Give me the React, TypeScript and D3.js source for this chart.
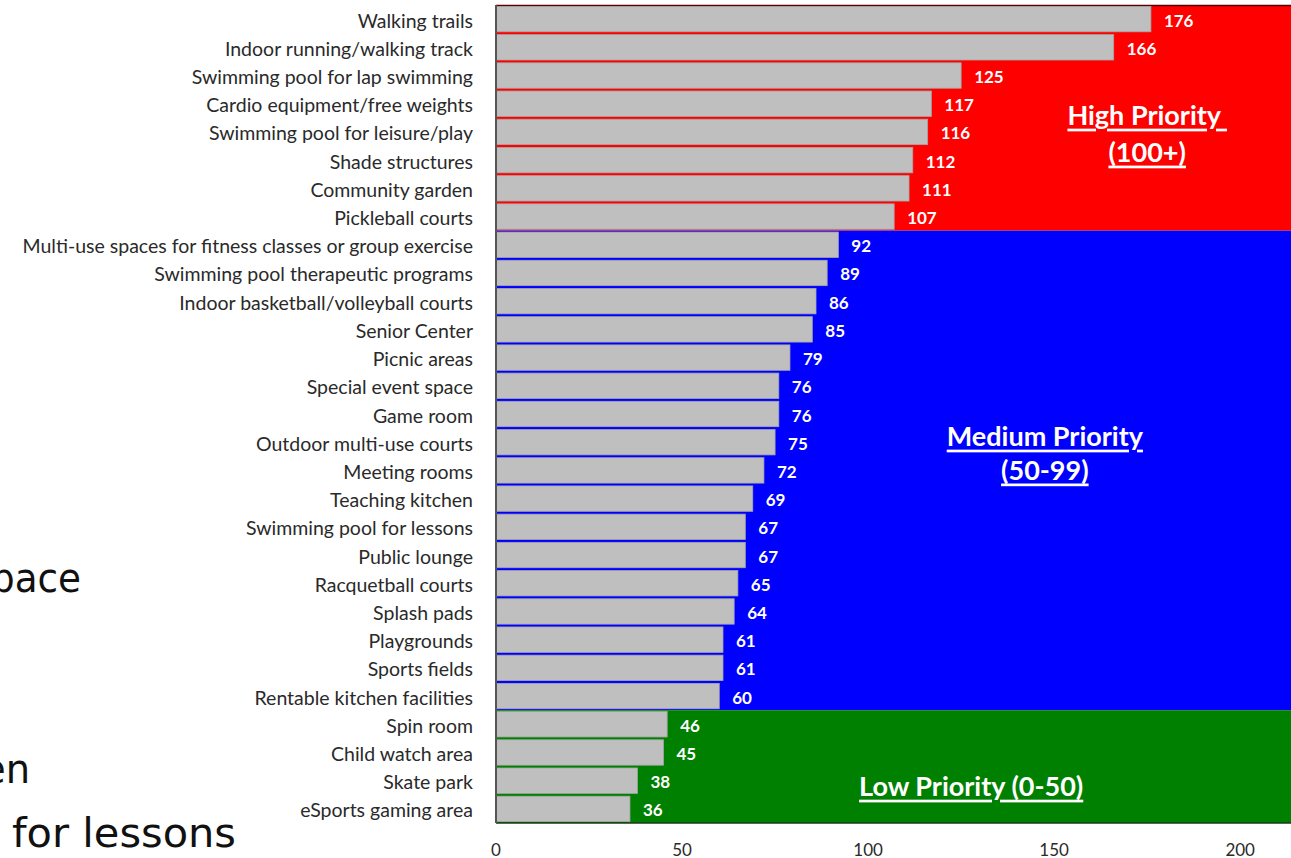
import React from "react";
import * as d3 from "d3";

const categories = [
  "Walking trails",
  "Indoor running/walking track",
  "Swimming pool for lap swimming",
  "Cardio equipment/free weights",
  "Swimming pool for leisure/play",
  "Shade structures",
  "Community garden",
  "Pickleball courts",
  "Multi-use spaces for fitness classes or group exercise",
  "Swimming pool therapeutic programs",
  "Indoor basketball/volleyball courts",
  "Senior Center",
  "Picnic areas",
  "Special event space",
  "Game room",
  "Outdoor multi-use courts",
  "Meeting rooms",
  "Teaching kitchen",
  "Swimming pool for lessons",
  "Public lounge",
  "Racquetball courts",
  "Splash pads",
  "Playgrounds",
  "Sports fields",
  "Rentable kitchen facilities",
  "Spin room",
  "Child watch area",
  "Skate park",
  "eSports gaming area",
];

const values = [176, 166, 125, 117, 116, 112, 111, 107, 92, 89, 86, 85, 79, 76, 76, 75, 72, 69, 67, 67, 65, 64, 61, 61, 60, 46, 45, 38, 36];

const tickValues = [0, 50, 100, 150, 200];

const zones = [
  { name: "high", first: 0, last: 7, color: "#ff0000" },
  { name: "medium", first: 8, last: 24, color: "#0000ff" },
  { name: "low", first: 25, last: 28, color: "#008000" },
];

const zoneLabels = [
  { lines: ["High Priority\u00a0", "(100+)"], at: 175, row: 3.87, gap: 1.31 },
  { lines: ["Medium Priority", "(50-99)"], at: 147.5, row: 15.25, gap: 1.2 },
  { lines: ["Low Priority (0-50)"], at: 127.7, row: 27.66, gap: 1.2 },
];

const strayTexts = [
  { text: "pace", x: -9, y: 592, len: 90 },
  { text: "en", x: -18, y: 783, len: 48 },
  { text: "for lessons", x: 12, y: 847, len: 224 },
];

export default function App() {
  const W = 1291;
  const H = 858;
  const top = 5;
  const bottom = 823;
  const x = d3.scaleLinear().domain([0, 220]).range([496, 496 + 220 * 3.721]);
  const y = d3
    .scaleBand<string>()
    .domain(categories)
    .range([top, bottom])
    .paddingInner(0.1)
    .paddingOuter(0.05);
  const rowH = (bottom - top) / categories.length;
  const rowTop = (i: number) => top + i * rowH;

  return (
    <div style={{ position: "absolute", left: 0, top: 0 }}>
      <svg width={W} height={H} style={{ display: "block" }}>
        <rect x={0} y={0} width={W} height={H} fill="#ffffff" />
        {zones.map((z) => (
          <rect
            key={z.name}
            x={x(0)}
            y={rowTop(z.first)}
            width={W - x(0)}
            height={rowTop(z.last + 1) - rowTop(z.first)}
            fill={z.color}
          />
        ))}
        <line x1={x(0)} x2={W} y1={top + 0.5} y2={top + 0.5} stroke="#5a0000" strokeWidth={1.5} />
        <line x1={x(0)} x2={W} y1={bottom} y2={bottom} stroke="#1a3a1a" strokeWidth={1.5} />
        {categories.map((c, i) => (
          <rect
            key={c}
            x={x(0)}
            y={y(c)!}
            width={x(values[i]) - x(0)}
            height={y.bandwidth()}
            fill="#bfbfbf"
            stroke="#a6a6a6"
            strokeWidth={0.8}
          />
        ))}
        <line x1={x(0)} x2={x(0)} y1={top} y2={bottom} stroke="#555" strokeWidth={2} />
        {categories.map((c) => (
          <text
            key={"l" + c}
            x={473}
            y={y(c)! + y.bandwidth() / 2 + 1}
            textAnchor="end"
            dominantBaseline="central"
            fontFamily="Lato, 'Open Sans', sans-serif"
            fontSize={19.5}
            fill="#2a2a2a"
          >
            {c}
          </text>
        ))}
        {categories.map((c, i) => (
          <text
            key={"v" + c}
            x={x(values[i]) + 13}
            y={y(c)! + y.bandwidth() / 2 + 1}
            dominantBaseline="central"
            fontFamily="Lato, 'Open Sans', sans-serif"
            fontWeight="bold"
            fontSize={17}
            fill="#ffffff"
          >
            {values[i]}
          </text>
        ))}
        {tickValues.map((t) => (
          <text
            key={"t" + t}
            x={x(t)}
            y={849}
            textAnchor="middle"
            dominantBaseline="central"
            fontFamily="Lato, 'Open Sans', sans-serif"
            fontSize={17}
            fill="#2a2a2a"
          >
            {t}
          </text>
        ))}
        {zoneLabels.map((z) =>
          z.lines.map((ln, j) => (
            <text
              key={ln}
              x={x(z.at)}
              y={top + rowH * (z.row + j * z.gap)}
              textAnchor="middle"
              dominantBaseline="central"
              fontFamily="Lato, 'Open Sans', sans-serif"
              fontWeight="bold"
              fontSize={27}
              fill="#ffffff"
              textDecoration="underline"
              style={{ textDecoration: "underline" }}
            >
              {ln}
            </text>
          ))
        )}
        {strayTexts.map((s) => (
          <text
            key={s.text}
            x={s.x}
            y={s.y}
            textLength={s.len}
            lengthAdjust="spacingAndGlyphs"
            fontFamily="'DejaVu Sans', sans-serif"
            fontSize={40}
            fill="#111"
          >
            {s.text}
          </text>
        ))}
      </svg>
    </div>
  );
}
